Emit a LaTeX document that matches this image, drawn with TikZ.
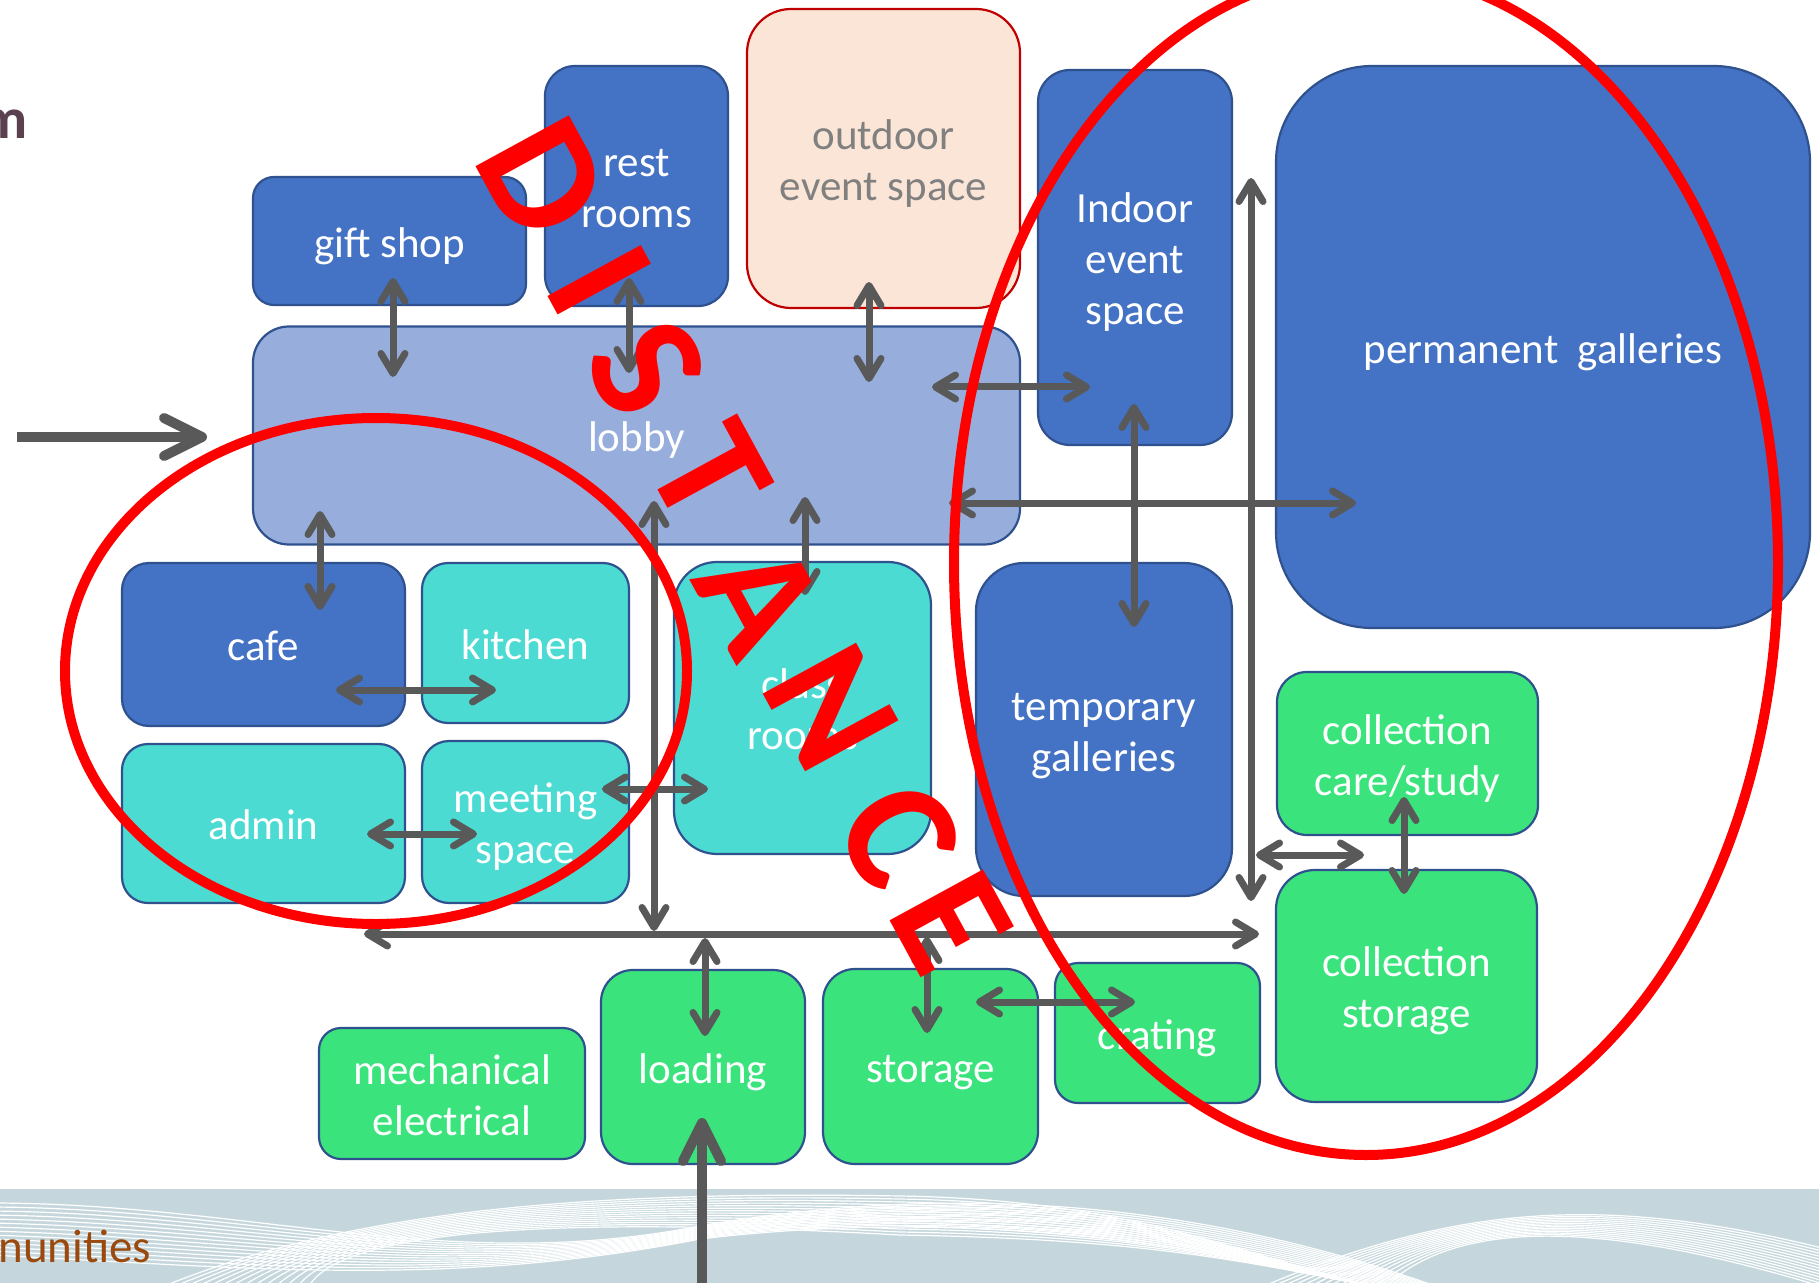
\documentclass[tikz,border=0pt]{standalone}
\usepackage{fontspec}
\setmainfont{Carlito}
\usetikzlibrary{arrows.meta}
\definecolor{dblue}{HTML}{4472C4}
\definecolor{bord}{HTML}{2F528F}
\definecolor{lobbyc}{HTML}{97AEDC}
\definecolor{tealc}{HTML}{4BDBD2}
\definecolor{greenc}{HTML}{3BE37D}
\definecolor{peach}{HTML}{FBE5D6}
\definecolor{darkred}{HTML}{C00000}
\definecolor{arr}{HTML}{595959}
\definecolor{bandc}{HTML}{C5D7DD}
\definecolor{plum}{HTML}{5B4150}
\definecolor{brownc}{HTML}{9A4A0E}
\definecolor{graytext}{HTML}{808080}
\newcommand\roomfont{\fontsize{21.5pt}{25.5pt}\selectfont}
\newcommand\distfont{\fontsize{82pt}{82pt}\selectfont\bfseries}
\newcommand\rs{\rule[-4.7pt]{0pt}{25.5pt}}
\begin{document}
\begin{tikzpicture}[x=0.5pt,y=-0.5pt,
  room/.style={draw=bord, line width=1.1pt, text=white, align=center, inner sep=0pt, font=\roomfont},
  conn/.style={draw=arr, line width=3.5pt, >={Straight Barb[length=10pt,width=12pt,round]}, <->},
  entry/.style={draw=arr, line width=5pt, -{Straight Barb[length=19pt,width=19pt,round]}},
  redring/.style={draw=red, line width=5pt},
  distletter/.style={text=red, font=\distfont, rotate=-61.4, inner sep=0pt},
  wave/.style={draw=white, line width=0.6pt}]
\useasboundingbox (0,0) rectangle (1819,1283);
\clip (0,0) rectangle (1819,1283);
\fill[white] (0,0) rectangle (1819,1283);

% bottom band with waves
\fill[bandc] (0,1189) rectangle (1819,1290);
\foreach \i in {0,...,13}{
  \draw[wave] (-10,1203+4*\i) .. controls (250,1203+5*\i) and (450,1275+\i) .. (700,1226+\i) .. controls (950,1183+2*\i) and (1200,1198+3*\i) .. (1460,1295+\i);
  \draw[wave] (150+12*\i,1292) .. controls (330,1215+\i) and (560,1190+2*\i) .. (900,1196+3*\i) .. controls (1150,1200+3*\i) and (1250,1262) .. (1400,1292);
  \draw[wave] (1250+10*\i,1292) .. controls (1450,1205+\i) and (1600,1192+2*\i) .. (1830,1250+3*\i);
}

% header / footer texts
\node[anchor=base east, inner sep=0pt, text=plum, font={\fontsize{29pt}{30pt}\selectfont\bfseries}] (title) at (28,139) {m};
\node[anchor=base west, inner sep=0pt, text=brownc, font={\fontsize{23.5pt}{25pt}\selectfont}] (footer) at (-2,1262) {nunities};

% rooms
\node[room, fill=dblue, minimum width=136.5pt, minimum height=64pt, rounded corners=10.5pt] (gift) at (389.5,241) {\rs gift shop};
\node[room, fill=dblue, minimum width=91.5pt, minimum height=120pt, rounded corners=15pt] (rest) at (636.5,186) {\rs rest\\\rs rooms};
\node[room, draw=darkred, fill=peach, text=graytext, minimum width=136.5pt, minimum height=149.5pt, rounded corners=22pt] (outdoor) at (883.5,158.5) {\rs outdoor\\\rs event space};
\node[room, fill=dblue, minimum width=97pt, minimum height=187.5pt, rounded corners=16pt] (indoor) at (1135,257.5) {\rs Indoor\\\rs event\\\rs space};
\node[room, fill=dblue, minimum width=267pt, minimum height=281pt, rounded corners=48pt] (perm) at (1543,347) {\rs permanent\ \ galleries};
\node[room, fill=lobbyc, minimum width=383.5pt, minimum height=109pt, rounded corners=18pt] (lobby) at (636.5,435.5) {\rs lobby};
\node[room, fill=dblue, minimum width=141.5pt, minimum height=81.5pt, rounded corners=13.5pt] (cafe) at (263.5,644.5) {\rs cafe};
\node[room, fill=tealc, minimum width=103.5pt, minimum height=80pt, rounded corners=13pt] (kitchen) at (525.5,643) {\rs kitchen};
\node[room, fill=tealc, minimum width=128.5pt, minimum height=146pt, rounded corners=21.5pt] (class) at (802.5,708) {\rs class\\\rs rooms};
\node[room, fill=dblue, minimum width=128pt, minimum height=166.5pt, rounded corners=24pt] (temp) at (1104,729.5) {\rs temporary\\\rs galleries};
\node[room, fill=tealc, minimum width=141.5pt, minimum height=79.5pt, rounded corners=13pt] (admin) at (263.5,823.5) {\rs admin};
\node[room, fill=tealc, minimum width=103.5pt, minimum height=81pt, rounded corners=13.5pt] (meeting) at (525.5,822) {\rs meeting\\\rs space};
\node[room, fill=greenc, minimum width=130.5pt, minimum height=81.5pt, rounded corners=15pt] (care) at (1407.5,753.5) {\rs collection\\\rs care/study};
\node[room, fill=greenc, minimum width=130.5pt, minimum height=116pt, rounded corners=19.5pt] (cstore) at (1406.5,986) {\rs collection\\\rs storage};
\node[room, fill=greenc, minimum width=133pt, minimum height=65.5pt, rounded corners=11pt] (mech) at (452,1093.5) {\rs mechanical\\\rs electrical};
\node[room, fill=greenc, minimum width=102pt, minimum height=97pt, rounded corners=16pt] (loading) at (703,1067) {\rs loading};
\node[room, fill=greenc, minimum width=107.5pt, minimum height=97.5pt, rounded corners=16pt] (storage) at (930.5,1066.5) {\rs storage};
\node[room, fill=greenc, minimum width=102.5pt, minimum height=70pt, rounded corners=11.5pt] (crating) at (1157.5,1033) {\rs crating};

% connector end points
\coordinate (e1a) at (17,437);   \coordinate (e1b) at (207,437);
\coordinate (e2a) at (702,1290); \coordinate (e2b) at (702,1118);
\coordinate (c1a) at (393,278);  \coordinate (c1b) at (393,377);
\coordinate (c2a) at (629,278);  \coordinate (c2b) at (629,373);
\coordinate (c3a) at (869,282);  \coordinate (c3b) at (869,382);
\coordinate (c4a) at (932,387);  \coordinate (c4b) at (1090,387);
\coordinate (c5a) at (1251,178); \coordinate (c5b) at (1251,901);
\coordinate (c6a) at (1134,404); \coordinate (c6b) at (1134,627);
\coordinate (c7a) at (949,503);  \coordinate (c7b) at (1356,503);
\coordinate (c8a) at (320,511);  \coordinate (c8b) at (320,610);
\coordinate (c9a) at (336,690);  \coordinate (c9b) at (496,690);
\coordinate (c10a) at (367,834); \coordinate (c10b) at (477,834);
\coordinate (c11a) at (654,501); \coordinate (c11b) at (654,931);
\coordinate (c12a) at (805,497); \coordinate (c12b) at (805,595);
\coordinate (c13a) at (602,789); \coordinate (c13b) at (708,789);
\coordinate (c14a) at (364,934); \coordinate (c14b) at (1259,934);
\coordinate (c15a) at (705,938); \coordinate (c15b) at (705,1036);
\coordinate (c16a) at (927,937); \coordinate (c16b) at (927,1033);
\coordinate (c17a) at (976,1002); \coordinate (c17b) at (1135,1002);
\coordinate (c18a) at (1256,855); \coordinate (c18b) at (1364,855);
\coordinate (c19a) at (1404,797); \coordinate (c19b) at (1404,894);

% connectors
\draw[entry] (e1a) -- (e1b);
\draw[entry] (e2a) -- (e2b);
\foreach \k in {1,...,19}{ \draw[conn] (c\k a) -- (c\k b); }

% red ellipses
\draw[redring] (376,671) ellipse [x radius=311, y radius=253];
\draw[redring] (1366,563) ellipse [x radius=412, y radius=592];

% DISTANCE
\node[distletter] (dD) at (543,178) {D};
\node[distletter] (dI) at (600,280) {I};
\node[distletter] (dS) at (647,368) {S};
\node[distletter] (dT) at (710,474) {T};
\node[distletter] (dA) at (760,598) {A};
\node[distletter] (dN) at (831,707) {N};
\node[distletter] (dC) at (899,835) {C};
\node[distletter] (dE) at (951,922) {E};
\end{tikzpicture}
\end{document}
